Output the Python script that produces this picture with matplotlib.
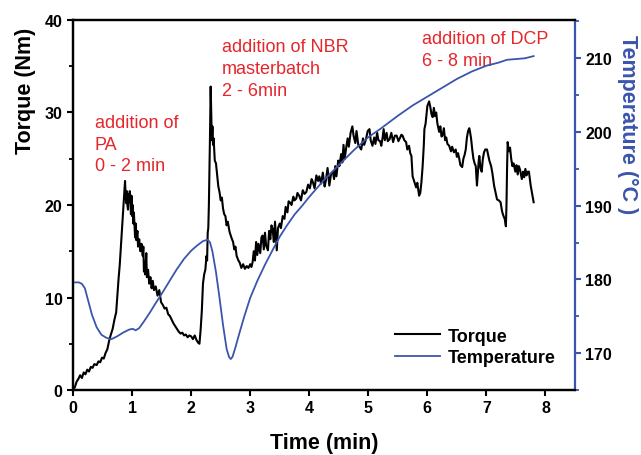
import matplotlib
matplotlib.use("Agg")
import matplotlib.pyplot as plt
from matplotlib.ticker import MultipleLocator

plt.rcParams['font.family'] = ['Liberation Sans', 'DejaVu Sans']

# ---- data ----
torque_t = [0.00,0.03,0.06,0.09,0.12,0.15,0.18,0.21,0.24,0.27,0.30,0.33,0.36,0.40,0.43,0.46,0.49,0.52,0.55,0.58,
            0.61,0.64,0.67,0.70,0.73,0.75,0.77,0.79,0.81,0.83,0.85,0.87,0.88,0.89,0.90,0.91,0.92,0.93,0.94,0.95,
            0.96,0.97,0.98,0.99,1.00,1.01,1.02,1.03,1.05,1.06,1.07,1.09,1.10,1.12,1.14,1.16,1.18,1.19,1.20,1.21,
            1.22,1.24,1.25,1.27,1.29,1.31,1.33,1.35,1.37,1.40,1.43,1.46,1.49,1.52,1.55,1.58,1.61,1.64,1.67,1.70,
            1.73,1.76,1.79,1.82,1.85,1.88,1.91,1.94,1.97,2.00,2.03,2.06,2.09,2.12,2.14,2.16,2.18,2.20,2.22,2.24,
            2.26,2.27,2.28,2.29,2.30,2.31,2.32,2.33,2.34,2.35,2.36,2.37,2.38,2.40,2.42,2.44,2.46,2.48,2.50,2.52,
            2.54,2.56,2.58,2.60,2.62,2.65,2.68,2.71,2.73,2.75,2.77,2.80,2.82,2.85,2.88,2.91,2.94,2.97,3.00,3.02,
            3.04,3.06,3.08,3.10,3.12,3.14,3.17,3.19,3.21,3.23,3.25,3.27,3.30,3.32,3.34,3.36,3.38,3.40,3.42,3.45,
            3.47,3.50,3.52,3.55,3.58,3.60,3.63,3.65,3.67,3.70,3.73,3.75,3.78,3.80,3.83,3.86,3.89,3.92,3.95,3.98,
            4.01,4.04,4.06,4.09,4.12,4.15,4.17,4.20,4.23,4.26,4.28,4.31,4.34,4.37,4.40,4.42,4.44,4.46,4.49,4.51,
            4.54,4.56,4.58,4.60,4.63,4.65,4.67,4.70,4.73,4.75,4.78,4.80,4.83,4.86,4.88,4.91,4.93,4.96,4.99,5.02,
            5.04,5.07,5.10,5.12,5.15,5.17,5.20,5.22,5.24,5.26,5.28,5.31,5.33,5.36,5.39,5.42,5.45,5.48,5.51,5.54,
            5.56,5.58,5.61,5.64,5.66,5.69,5.71,5.73,5.75,5.78,5.81,5.83,5.86,5.88,5.90,5.92,5.94,5.95,5.97,6.00,
            6.03,6.05,6.07,6.09,6.11,6.13,6.15,6.17,6.20,6.22,6.24,6.26,6.28,6.30,6.32,6.34,6.37,6.40,6.42,6.45,
            6.48,6.50,6.52,6.54,6.56,6.59,6.61,6.63,6.65,6.67,6.69,6.71,6.72,6.74,6.76,6.78,6.80,6.82,6.84,6.85,
            6.87,6.88,6.90,6.92,6.94,6.96,6.98,7.01,7.03,7.05,7.08,7.10,7.13,7.15,7.18,7.21,7.24,7.26,7.27,7.29,
            7.31,7.33,7.34,7.35,7.36,7.38,7.40,7.42,7.44,7.46,7.49,7.51,7.53,7.55,7.57,7.60,7.62,7.64,7.66,7.68,
            7.70,7.72,7.74,7.75,7.78,7.80]
torque_nm = [0.0,0.3,0.9,1.2,1.6,1.3,1.9,1.7,2.2,2.0,2.5,2.4,2.8,2.7,3.1,3.0,3.5,3.4,4.0,4.4,
             5.3,6.0,6.6,7.6,8.4,10.2,12.0,13.5,15.5,17.5,19.5,21.5,22.6,21.0,20.2,21.5,20.0,19.5,21.2,20.3,
             21.5,20.8,19.0,21.0,18.8,20.0,18.0,19.2,16.5,18.0,16.2,17.2,15.5,16.3,15.0,15.8,14.5,15.5,12.8,13.8,
             12.5,14.8,12.2,13.0,11.5,12.2,11.0,11.8,10.8,11.2,10.2,10.8,9.5,9.2,8.8,8.9,8.2,8.0,7.6,7.2,
             6.9,6.6,6.3,6.1,6.2,5.9,6.0,5.7,5.9,5.8,5.5,5.9,5.4,5.1,5.0,6.5,8.5,11.5,12.5,13.0,
             14.5,14.0,17.0,17.5,20.0,23.9,28.0,32.8,30.0,27.0,28.5,26.5,27.2,24.8,24.5,23.2,22.0,21.4,20.5,20.8,
             19.6,19.0,18.8,17.8,18.2,17.1,16.5,16.0,15.2,15.5,14.5,14.0,13.8,13.2,13.6,13.1,13.4,13.2,13.6,13.3,
             13.8,15.0,14.0,16.0,14.6,15.8,14.8,16.5,16.7,15.2,17.0,15.6,15.1,17.2,16.3,17.8,17.4,16.0,18.2,15.1,
             17.5,18.0,17.5,18.8,18.5,19.8,19.2,20.4,20.3,20.0,20.9,20.5,20.7,21.3,21.0,20.5,21.6,21.2,21.4,22.2,
             21.8,22.8,22.5,21.8,23.2,22.6,23.1,22.3,23.5,22.0,22.6,24.0,22.1,23.4,23.6,22.8,24.2,23.1,24.8,24.2,
             25.5,24.6,26.5,25.0,26.4,27.2,26.3,27.8,28.5,27.5,26.7,28.0,26.5,26.2,26.0,27.2,26.5,27.1,28.0,28.2,
             27.0,26.4,27.3,26.6,27.8,27.0,26.9,26.4,27.2,28.2,27.0,27.8,26.9,27.1,27.8,26.8,27.5,27.5,26.9,27.3,
             27.6,27.5,27.0,26.8,26.0,26.4,25.6,25.3,23.1,22.5,21.9,22.4,21.0,21.3,22.5,24.2,26.5,28.2,28.8,30.7,
             31.2,30.6,29.8,29.5,30.5,29.6,30.0,28.8,27.9,28.5,27.4,27.6,28.3,27.0,27.3,26.6,26.4,25.8,26.3,25.7,
             26.0,25.2,25.6,25.0,24.3,24.1,25.0,25.4,26.0,27.3,28.0,28.3,28.0,27.2,26.0,25.0,24.5,24.2,22.1,23.0,
             24.8,25.3,24.0,23.6,25.0,25.7,26.0,26.0,25.4,24.8,24.2,23.5,22.1,21.5,20.6,20.5,20.3,19.5,19.2,18.8,
             18.5,17.7,20.0,24.0,26.8,25.8,26.2,25.0,24.2,24.5,23.6,24.3,23.3,24.2,23.8,22.8,23.6,23.0,23.9,23.2,
             23.6,23.6,22.6,22.1,21.0,20.3]

temp_t = [0.00,0.10,0.15,0.20,0.25,0.32,0.40,0.48,0.56,0.65,0.75,0.85,0.95,1.01,1.06,1.12,1.20,1.30,1.40,1.52,
          1.65,1.75,1.88,2.00,2.10,2.20,2.28,2.32,2.36,2.42,2.48,2.54,2.60,2.64,2.67,2.70,2.75,2.82,2.90,3.00,
          3.12,3.25,3.38,3.50,3.62,3.75,3.88,4.00,4.25,4.50,4.75,5.00,5.20,5.50,5.75,6.00,6.25,6.50,6.75,7.00,
          7.20,7.35,7.50,7.65,7.80]
temp_c = [179.6,179.6,179.4,178.8,177.3,175.2,173.5,172.5,172.1,171.9,172.3,172.8,173.2,173.3,173.1,173.4,174.3,175.5,176.8,178.3,
          180.0,181.3,182.8,183.9,184.6,185.2,185.4,185.0,183.8,181.0,177.5,173.8,170.6,169.5,169.2,169.5,170.8,172.8,175.0,177.5,
          179.8,182.0,184.0,185.8,187.3,188.8,190.0,191.2,193.5,195.5,197.5,199.3,200.4,202.2,203.6,204.8,206.0,207.2,208.2,209.0,
          209.4,209.8,209.9,210.0,210.3]

x_ticks = [0, 1, 2, 3, 4, 5, 6, 7, 8]
torque_ticks = [0, 10, 20, 30, 40]
temp_ticks = [170, 180, 190, 200, 210]

annotations = [
    ("addition of\nPA\n0 - 2 min", 0.37, 29.8),
    ("addition of NBR\nmasterbatch\n2 - 6min", 2.52, 38.0),
    ("addition of DCP\n6 - 8 min", 5.91, 38.9),
]

BLUE = '#3b55ad'
RED = '#e5262b'

fig = plt.figure(figsize=(6.41, 4.56), dpi=100)
ax = fig.add_axes([0.114, 0.1425, 0.783, 0.8115])
ax2 = ax.twinx()

l1, = ax.plot(torque_t, torque_nm, color='black', lw=1.5, label='Torque')
l2, = ax2.plot(temp_t, temp_c, color=BLUE, lw=1.3, label='Temperature')

ax.set_xlim(0, 8.5)
ax.set_ylim(0, 40)
ax2.set_ylim(165, 215.2)
ax.set_xticks(x_ticks)
ax.set_yticks(torque_ticks)
ax.yaxis.set_minor_locator(MultipleLocator(5))
ax2.set_yticks(temp_ticks)
ax2.yaxis.set_minor_locator(MultipleLocator(5))

for sp in ['left', 'bottom', 'top']:
    ax.spines[sp].set_linewidth(1.6)
    ax2.spines[sp].set_linewidth(1.6)
ax.spines['right'].set_visible(False)
ax2.spines['right'].set_color(BLUE)
ax2.spines['right'].set_linewidth(1.6)

ax.tick_params(axis='both', which='major', direction='out', length=4.5, width=1.5,
               labelsize=11.5, pad=3)
ax.tick_params(axis='y', which='minor', direction='out', length=3, width=1.3)
ax2.tick_params(axis='y', which='major', direction='out', length=4.5, width=1.5,
                color=BLUE, labelsize=11.5, pad=3)
ax2.tick_params(axis='y', which='minor', direction='out', length=3, width=1.3, color=BLUE)
for lab in ax.get_xticklabels() + ax.get_yticklabels() + ax2.get_yticklabels():
    lab.set_fontweight('bold')

ax.set_xlabel('Time (min)', fontsize=15.5, fontweight='bold', labelpad=12)
ax.set_ylabel('Torque (Nm)', fontsize=15.5, fontweight='bold', labelpad=6)
ax2.set_ylabel('Temperature (°C )', fontsize=15.5, fontweight='bold', color=BLUE,
               rotation=270, labelpad=19)
ax.yaxis.label.set_y(0.81)
ax2.yaxis.label.set_y(0.72)

for txt, x, y in annotations:
    ax.text(x, y, txt, color=RED, fontsize=13, va='top', ha='left', linespacing=1.35)

leg = ax.legend([l1, l2], ['Torque', 'Temperature'], loc='lower right',
                bbox_to_anchor=(0.975, 0.045), frameon=False, handlelength=2.5,
                handletextpad=0.4, labelspacing=0.25, borderaxespad=0.0,
                prop={'weight': 'bold', 'size': 13})

fig.savefig('out.png', dpi=100)
